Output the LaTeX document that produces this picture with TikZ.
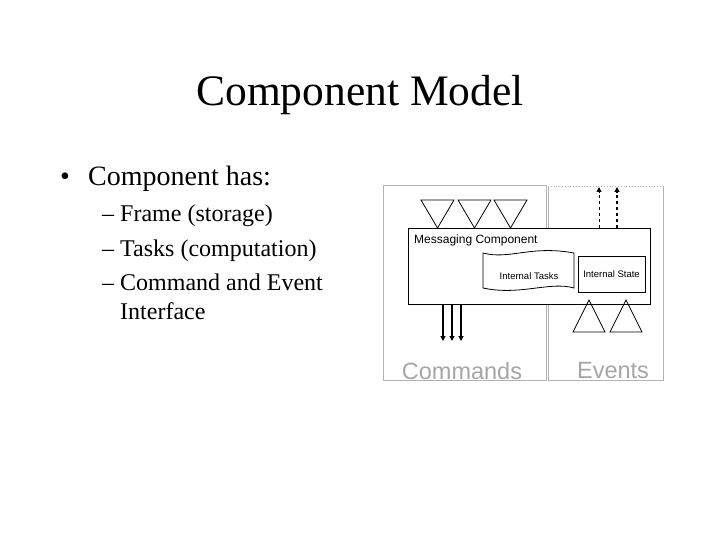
\documentclass[tikz,border=0pt]{standalone}
\usepackage{fontspec}
\setmainfont{Liberation Serif}
\setsansfont{Liberation Sans}
\usetikzlibrary{arrows.meta}
\begin{document}
\begin{tikzpicture}[x=1pt,y=-1pt,
  gbox/.style={draw=black!30,line width=1pt},
  tri/.style={draw,line width=0.8pt},
  cmdarrow/.style={line width=1.8pt,-{Triangle[length=5pt,width=5pt]}},
  evarrow/.style={line width=1.3pt,dashed,-{Triangle[length=5pt,width=5pt]}},
  small/.style={font=\sffamily\fontsize{#1}{#1}\selectfont,inner sep=0pt},
  subtxt/.style={anchor=base west,inner sep=0,font=\fontsize{24}{24}\selectfont}]
\useasboundingbox (0,0) rectangle (720,540);
\node (title) at (360,95) {\fontsize{43.5}{43.5}\selectfont Component Model};
\node[anchor=base west,inner sep=0] (bul) at (60,186) {\fontsize{28}{28}\selectfont •};
\node[anchor=base west,inner sep=0] (b1) at (88,186) {\fontsize{28}{28}\selectfont Component has:};
\node[subtxt] (d1) at (102,222) {--};
\node[subtxt] (s1) at (120,222) {Frame (storage)};
\node[subtxt] (d2) at (102,256) {--};
\node[subtxt] (s2) at (120,256) {Tasks (computation)};
\node[subtxt] (d3) at (102,290) {--};
\node[subtxt] (s3) at (120,290) {Command and Event};
\node[subtxt] (s4) at (120,319) {Interface};
% boxes
\draw[gbox] (383,186) rectangle (546,380);
\draw[gbox] (548,380) -- (548,186);
\draw[draw=black!30,line width=1pt] (663,186) -- (663,380) -- (548,380);
\draw[draw=black!30,dotted,line width=0.8pt] (548,186) -- (663,186);
\node[small=23.5,text=black!35] (cmd) at (462,371) {Commands};
\node[small=23.5,text=black!35] (ev) at (613,371) {Events};
% main
\draw[line width=0.9pt,fill=white] (408,228) rectangle (650,304);
\node[small=12,anchor=west] (msg) at (414,240) {Messaging Component};
\draw[line width=0.8pt] (483,253) .. controls (510,260) and (530,245) .. (574,253) -- (574,288)
  .. controls (550,281) and (520,296) .. (483,288) -- cycle;
\node[small=9.5] (tasks) at (529,276) {Internal Tasks};
\draw[line width=0.8pt] (578,256) rectangle (645,292);
\node[small=9.5] (state) at (611.5,274) {Internal State};
% top triangles
\foreach \a in {421,458,494}
  \draw[tri] (\a,200) -- (\a+33,200) -- (\a+16.5,228) -- cycle;
% bottom triangles
\foreach \a in {573,610}
  \draw[tri] (\a,332) -- (\a+32,332) -- (\a+16,300) -- cycle;
% arrows
\foreach \x in {443,452,461}
  \draw[cmdarrow] (\x,304) -- (\x,341);
\draw[evarrow,line width=0.9pt] (599,228) -- (599,187);
\draw[evarrow] (617,228) -- (617,187);
\end{tikzpicture}
\end{document}
